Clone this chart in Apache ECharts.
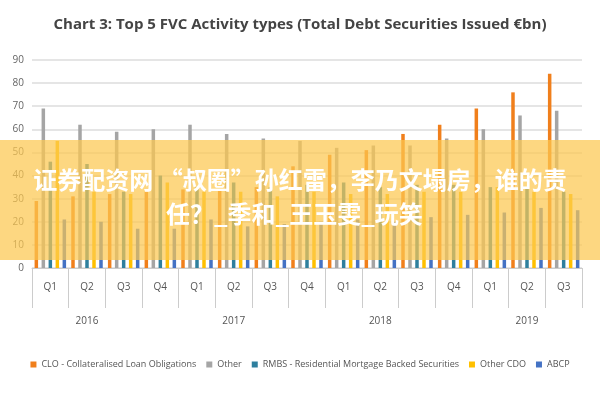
<!DOCTYPE html>
<html><head><meta charset="utf-8">
<script src="https://cdn.jsdelivr.net/npm/echarts@6/dist/echarts.min.js"></script>
<style>body{margin:0}#main{width:600px;height:400px}</style>
</head><body><div id="main"></div>
<script>
var quarters = ['Q1','Q2','Q3','Q4','Q1','Q2','Q3','Q4','Q1','Q2','Q3','Q4','Q1','Q2','Q3'];
var years = ['2016','2017','2018','2019'];
var yearSpans = [4, 4, 4, 3];
var clo = [29, 31, 32, 33, 34, 34, 35, 44, 49, 51, 58, 62, 69, 76, 84];
var other = [69, 62, 59, 60, 62, 58, 56, 55, 52, 53, 53, 56, 60, 66, 68];
var rmbs = [46, 45, 33, 40, 35, 37, 35, 36, 37, 35, 36, 36, 35, 35, 33];
var otherCdo = [55, 33, 32, 37, 33, 33, 31, 33, 32, 32, 33, 33, 35, 33, 32];
var abcp = [21, 20, 17, 17, 21, 18, 19, 20, 21, 20, 22, 23, 24, 26, 25];

var chart = echarts.init(document.getElementById('main'));
var yearCats = [];
years.forEach(function (y, i) { for (var k = 0; k < yearSpans[i]; k++) yearCats.push(k === Math.floor((yearSpans[i] - 1) / 2) ? y : ''); });
var font = 'Open Sans';
function bar(name, data, color) {
  return { name: name, type: 'bar', data: data, barWidth: 3.5, barGap: '100%', itemStyle: { color: color } };
}
chart.setOption({
  textStyle: { fontFamily: font },
  title: { text: 'Chart 3: Top 5 FVC Activity types (Total Debt Securities Issued €bn)', left: 'center', top: 12,
    textStyle: { fontSize: 15, fontWeight: 'bold', color: '#444', fontFamily: 'Liberation Sans Narrow, Open Sans' } },
  grid: { left: 32, right: 18, top: 60, bottom: 132 },
  legend: { bottom: 26, itemWidth: 6, itemHeight: 6, itemGap: 10, icon: 'rect',
    textStyle: { fontSize: 9, color: '#555' } },
  xAxis: [
    { type: 'category', data: quarters, axisTick: { show: true, length: 40, lineStyle: { color: '#ccc' } },
      axisLine: { lineStyle: { color: '#ccc' } }, axisLabel: { color: '#555', fontSize: 10, margin: 14 } },
    { type: 'category', data: yearCats, position: 'bottom', offset: 40,
      axisLine: { show: false }, axisTick: { show: false },
      axisLabel: { color: '#555', fontSize: 10, interval: 0, margin: 8 } }
  ],
  yAxis: { type: 'value', min: 0, max: 90, interval: 10,
    axisLabel: { color: '#666', fontSize: 10 }, axisLine: { show: false },
    splitLine: { lineStyle: { color: '#ddd', width: 1.5 } } },
  series: [
    bar('CLO - Collateralised Loan Obligations', clo, '#f07f1c'),
    bar('Other', other, '#a5a5a5'),
    bar('RMBS - Residential Mortgage Backed Securities', rmbs, '#2e7f9e'),
    bar('Other CDO', otherCdo, '#ffc000'),
    bar('ABCP', abcp, '#4472c4')
  ],
  graphic: [
    { type: 'rect', left: 0, top: 140, shape: { width: 600, height: 120 }, style: { fill: 'rgba(252,200,80,0.72)' }, z: 100 },
    { type: 'text', left: 'center', top: 168, z: 101, style: { text: '证券配资网 “叔圈”孙红雷，李乃文塌房，谁的责',
      fill: '#fff', font: 'bold 24px "Noto Sans CJK SC"' } },
    { type: 'text', left: 166, top: 202, z: 101, style: { text: '任？_季和_王玉雯_玩笑',
      fill: '#fff', font: 'bold 24px "Noto Sans CJK SC"' } }
  ]
});
</script></body></html>
